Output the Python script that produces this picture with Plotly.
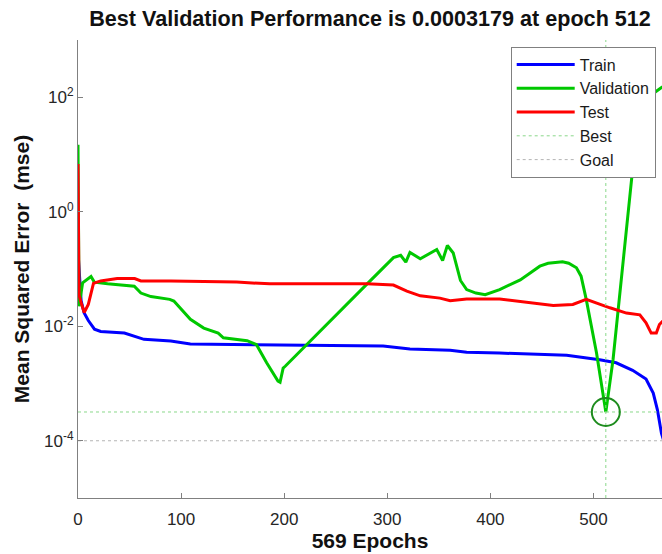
import plotly.graph_objects as go

# ---- data ----
train_epochs = [0, 1, 3, 6, 10, 16, 22, 45, 58, 64, 90, 109, 150, 235, 296, 322, 361, 377,
                409, 474, 506, 522, 538, 551, 558, 562, 566, 569]
train_mse = [0.20, 0.10, 0.028, 0.017, 0.0126, 0.0089, 0.0081, 0.0076, 0.0063, 0.0059, 0.0055,
             0.0049, 0.0048, 0.0047, 0.0045, 0.0040, 0.0038, 0.0035, 0.0034, 0.0031, 0.0026,
             0.0023, 0.0017, 0.0012, 0.00068, 0.00035, 0.000135, 0.000089]

val_epochs = [0, 1, 4.5, 12.6, 15.8, 28.7, 54.6, 61, 70.7, 89, 93, 101, 109, 122, 136, 141, 164,
              173, 183, 194, 196, 199, 201, 280, 306, 313, 318, 322, 332, 348, 353.7,
              358.3, 364, 371, 377, 386, 395, 409, 420, 429, 440, 448, 456, 464, 470, 476,
              483.5, 488, 493, 503, 512, 519, 529, 538, 548, 559, 566, 569]
val_mse = [14.8, 0.0224, 0.0575, 0.074, 0.059, 0.055, 0.050, 0.038, 0.033, 0.0295, 0.0275,
           0.019, 0.0132, 0.0093, 0.0076, 0.0063, 0.0056, 0.0048, 0.0023, 0.0011, 0.00105,
           0.00186, 0.0020, 0.054, 0.158, 0.174, 0.132, 0.195, 0.151, 0.219, 0.141,
           0.257, 0.19, 0.063, 0.0437, 0.038, 0.0355, 0.0437, 0.054, 0.0646, 0.089, 0.112,
           0.126, 0.132, 0.134, 0.126, 0.105, 0.075, 0.0295, 0.0034, 0.0003179, 0.0026, 0.145,
           5.5, 31, 120, 148, 158]

test_epochs = [0, 1, 3, 6, 10, 15, 22, 38, 55, 61, 90, 154, 186, 235, 280, 306, 319, 332, 351,
               361, 377, 409, 461, 480, 493, 516, 532, 545, 551, 556, 561, 564, 569]
test_mse = [6.8, 0.035, 0.026, 0.0174, 0.024, 0.056, 0.062, 0.068, 0.068, 0.062, 0.062, 0.059,
            0.055, 0.055, 0.055, 0.0525, 0.041, 0.034, 0.031, 0.028, 0.030, 0.030, 0.023, 0.024,
            0.0295, 0.021, 0.017, 0.0158, 0.0115, 0.0076, 0.0076, 0.0107, 0.0132]

best_epoch = 512
best_perf = 0.0003179
goal = 1e-4
n_epochs = 569

x_ticks = [0, 100, 200, 300, 400, 500]
y_ticks = [1e-4, 1e-2, 1, 1e2]
y_tick_text = ["10<sup>-4</sup>", "10<sup>-2</sup>", "10<sup>0</sup>", "10<sup>2</sup>"]

x_range = [0, 566.5]
y_log_range = [-5, 3]

FONT = "Liberation Sans, Arial, Helvetica, sans-serif"

fig = go.Figure()
fig.add_trace(go.Scatter(x=train_epochs, y=train_mse, mode="lines", name="Train",
                         line=dict(color="#0000ff", width=3)))
fig.add_trace(go.Scatter(x=val_epochs, y=val_mse, mode="lines", name="Validation",
                         line=dict(color="#00c800", width=3)))
fig.add_trace(go.Scatter(x=test_epochs, y=test_mse, mode="lines", name="Test",
                         line=dict(color="#ff0000", width=3)))
fig.add_trace(go.Scatter(
    x=[x_range[0], x_range[1], None, best_epoch, best_epoch],
    y=[best_perf, best_perf, None, 10 ** y_log_range[0], 10 ** y_log_range[1]],
    mode="lines", name="Best", line=dict(color="#8ad88a", width=1, dash="dot")))
fig.add_trace(go.Scatter(
    x=[x_range[0], x_range[1]], y=[goal, goal],
    mode="lines", name="Goal", line=dict(color="#b4b4b4", width=1, dash="dot")))
fig.add_trace(go.Scatter(
    x=[best_epoch], y=[best_perf], mode="markers", showlegend=False,
    marker=dict(symbol="circle-open", size=28, color="#1e8c1e", line=dict(width=2, color="#1e8c1e"))))

fig.update_layout(
    width=662, height=554,
    margin=dict(l=78, r=0, t=40, b=56),
    paper_bgcolor="white", plot_bgcolor="white",
    font=dict(family=FONT, color="#262626"),
    title=dict(text=f"<b>Best Validation Performance is {best_perf} at epoch {best_epoch}</b>",
               x=0.5, xref="paper", xanchor="center", y=1 - 18 / 554, yanchor="middle",
               font=dict(size=21.6, color="#111111", family=FONT)),
    xaxis=dict(range=x_range, tickvals=x_ticks, ticks="inside", ticklen=5,
               tickcolor="#808080", showline=True, linecolor="#808080", linewidth=1,
               showgrid=False, zeroline=False, mirror=False, ticklabelstandoff=6,
               tickfont=dict(size=17, color="#262626"),
               title=dict(text=f"<b>{n_epochs} Epochs</b>", standoff=0,
                          font=dict(size=21, color="#111111"))),
    yaxis=dict(type="log", range=y_log_range, tickvals=y_ticks, ticktext=y_tick_text,
               ticks="inside", ticklen=5, tickcolor="#808080", showline=True,
               linecolor="#808080", linewidth=1, showgrid=False, zeroline=False, mirror=False,
               tickfont=dict(size=17, color="#262626"),
               title=dict(text="<b>Mean Squared Error\u00a0 (mse)</b>", standoff=8,
                          font=dict(size=21, color="#111111"))),
    legend=dict(x=(655.7 - 78) / 584, y=(498.2 - 47) / 457.7, xanchor="right", yanchor="top",
                bgcolor="white", bordercolor="#808080", borderwidth=1,
                font=dict(size=16, color="#1a1a1a"), itemwidth=58, tracegroupgap=0),
    showlegend=True,
)

fig.write_html("out.html")
